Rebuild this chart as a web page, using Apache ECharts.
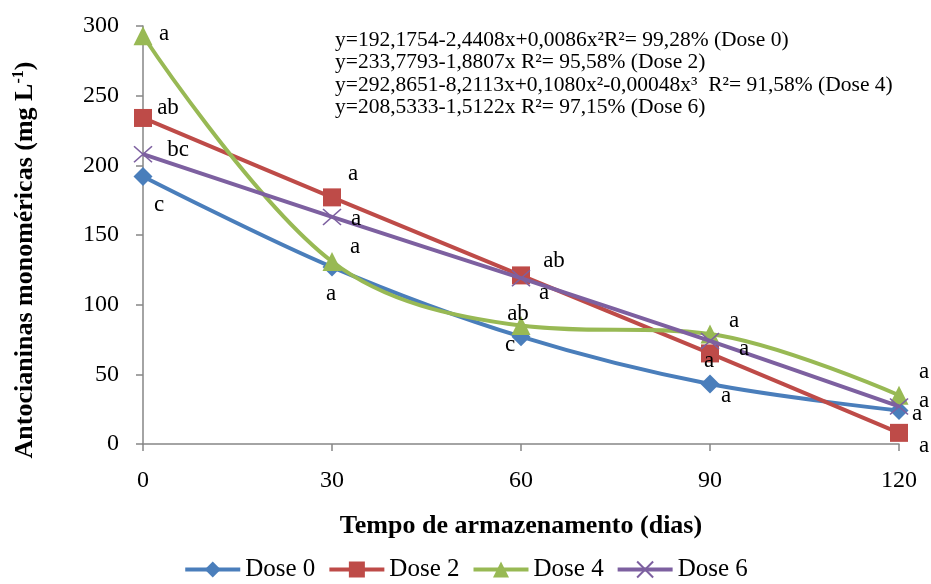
<!DOCTYPE html>
<html>
<head>
<meta charset="utf-8">
<script src="https://cdn.jsdelivr.net/npm/echarts@6/dist/echarts.min.js"></script>
<style>html,body{margin:0;padding:0;background:#fff}#c{width:931px;height:584px}</style>
</head>
<body>
<div id="c"></div>
<script>
// Storage time (days)
const days = [0, 30, 60, 90, 120];
const seriesNames = ['Dose 0', 'Dose 2', 'Dose 4', 'Dose 6'];
// Monomeric anthocyanins (mg L-1)
const dose0 = [192, 127, 77, 43, 24];
const dose2 = [234, 177, 121, 65, 8];
const dose4 = [293, 131, 85, 79, 35];
const dose6 = [208, 163, 119, 74, 27];
// Mean comparison letters
const letters0 = ['c', 'a', 'c', 'a', 'a'];
const letters2 = ['ab', 'a', 'ab', 'a', 'a'];
const letters4 = ['a', 'a', 'ab', 'a', 'a'];
const letters6 = ['bc', 'a', 'a', 'a', 'a'];
const yTicks = [0, 50, 100, 150, 200, 250, 300];
const equations = [
  'y=192,1754-2,4408x+0,0086x²R²= 99,28% (Dose 0)',
  'y=233,7793-1,8807x R²= 95,58% (Dose 2)',
  'y=292,8651-8,2113x+0,1080x²-0,00048x³  R²= 91,58% (Dose 4)',
  'y=208,5333-1,5122x R²= 97,15% (Dose 6)'
];

// label offsets [dx, dy] from each point (layout only)
const off0 = [[16, 28], [-1, 27], [-11, 8], [16, 12], [18, 3]];
const off2 = [[25, -10], [21, -23], [33, -14], [-1, 8], [25, 13]];
const off4 = [[21, -2], [23, -15], [-3, -12], [24, -13], [25, -23]];
const off6 = [[35, -4], [24, 2], [23, 15], [34, 8], [25, -5]];

const FONT = 'Liberation Serif';
const colors = ['#4A7EBB', '#BE4B48', '#98B954', '#7D60A0'];

function buildData(vals, letters, offs) {
  return vals.map((v, i) => ({
    value: [days[i], v],
    label: {
      show: true,
      formatter: letters[i],
      position: 'inside',
      offset: offs[i]
    }
  }));
}

const crossPath = 'path://M0,0L10,10M10,0L0,10';

const series = [
  { data: buildData(dose0, letters0, off0), symbol: 'diamond', symbolSize: 19 },
  { data: buildData(dose2, letters2, off2), symbol: 'rect', symbolSize: 18 },
  { data: buildData(dose4, letters4, off4), symbol: 'triangle', symbolSize: 19 },
  { data: buildData(dose6, letters6, off6), symbol: crossPath, symbolSize: [18, 16] }
].map((s, k) => Object.assign({
  name: seriesNames[k],
  type: 'line',
  smooth: 0.35,
  lineStyle: { width: 4, color: colors[k] },
  itemStyle: k === 3
    ? { color: 'rgba(0,0,0,0)', borderColor: colors[k], borderWidth: 1.5 }
    : { color: colors[k] },
  label: { color: '#000', fontFamily: FONT, fontSize: 23 },
  emphasis: { disabled: true },
  z: 2 + k,
  animation: false
}, s));

const chart = echarts.init(document.getElementById('c'));
chart.setOption({
  animation: false,
  grid: { left: 143, right: 32, top: 26, bottom: 140 },
  xAxis: {
    type: 'value', min: 0, max: 120, interval: 30,
    name: 'Tempo de armazenamento (dias)',
    nameLocation: 'middle', nameGap: 69,
    nameTextStyle: { fontFamily: FONT, fontSize: 26, fontWeight: 'bold', color: '#000' },
    axisLine: { lineStyle: { color: '#868686', width: 1.5 } },
    axisTick: { show: true, length: 7, lineStyle: { color: '#868686', width: 1.5 } },
    axisLabel: { fontFamily: FONT, fontSize: 24, color: '#000', margin: 25 },
    splitLine: { show: false }
  },
  yAxis: {
    type: 'value', min: yTicks[0], max: yTicks[yTicks.length - 1], interval: 50,
    name: 'Antocianinas monoméricas (mg L{sup|-1})',
    nameLocation: 'middle', nameGap: 104, nameRotate: 90,
    nameTextStyle: {
      fontFamily: FONT, fontSize: 26, fontWeight: 'bold', color: '#000',
      padding: [0, 50, 0, 0],
      rich: { sup: { fontFamily: FONT, fontSize: 16, fontWeight: 'bold', color: '#000', verticalAlign: 'top', padding: [0, 0, 12, 0] } }
    },
    axisLine: { show: true, lineStyle: { color: '#868686', width: 1.5 } },
    axisTick: { show: true, length: 7, lineStyle: { color: '#868686', width: 1.5 } },
    axisLabel: { fontFamily: FONT, fontSize: 24, color: '#000', margin: 24 },
    splitLine: { show: false }
  },
  legend: {
    bottom: -3, left: 'center',
    itemWidth: 55, itemHeight: 20, itemGap: 12,
    lineStyle: { width: 4 },
    textStyle: { fontFamily: FONT, fontSize: 25, color: '#000' },
    data: seriesNames
  },
  graphic: [{
    type: 'text', left: 335, top: 29,
    style: {
      text: equations.join('\n'),
      fontFamily: FONT, fontSize: 21.5, lineHeight: 22.5, fill: '#000'
    }
  }],
  series: series
});
</script>
</body>
</html>
